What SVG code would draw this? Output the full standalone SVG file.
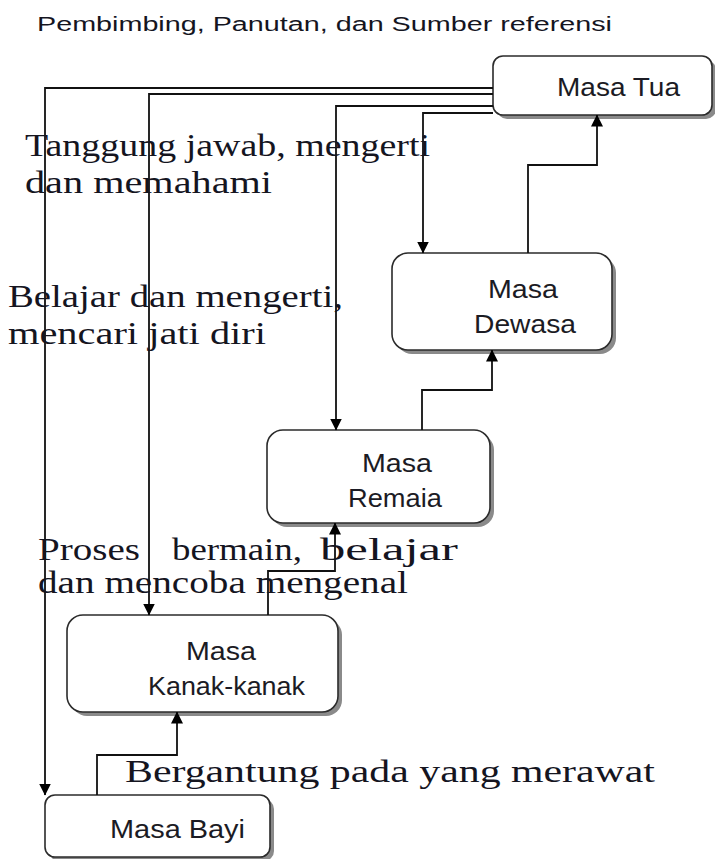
<svg xmlns="http://www.w3.org/2000/svg" width="715" height="859" viewBox="0 0 715 859">
  <style>
    .box { fill: #ffffff; stroke: #2b2b2b; stroke-width: 1.6; }
    .shadow { fill: #8a8a8a; }
    .lbl { font-family: "Liberation Sans", "Open Sans", sans-serif; font-size: 25px; fill: #1b1b24; }
    .note { font-family: "Liberation Serif", "DejaVu Serif", serif; font-size: 31px; fill: #15151f; }
    .title { font-family: "Liberation Sans", "Open Sans", sans-serif; font-size: 20px; fill: #15151f; }
    .wire { fill: none; stroke: #111111; stroke-width: 1.8; }
  </style>
  <defs>
    <marker id="arrow" markerWidth="12" markerHeight="12" refX="11.5" refY="6" orient="auto" markerUnits="userSpaceOnUse">
      <path d="M0,0 L12,6 L0,12 z" fill="#000000"/>
    </marker>
  </defs>
  <rect width="715" height="859" fill="#ffffff"/>

  <text class="title" x="37" y="31" textLength="575" lengthAdjust="spacingAndGlyphs">Pembimbing, Panutan, dan Sumber referensi</text>

  <!-- stage boxes -->
  <g id="masa-tua">
    <rect class="shadow" x="497" y="60" width="219" height="59" rx="10"/>
    <rect class="box" x="493" y="56" width="219" height="59" rx="10"/>
    <text class="lbl" x="557" y="96" textLength="123" lengthAdjust="spacingAndGlyphs">Masa Tua</text>
  </g>
  <g id="masa-dewasa">
    <rect class="shadow" x="396" y="257" width="220" height="97" rx="16"/>
    <rect class="box" x="392" y="253" width="220" height="97" rx="16"/>
    <text class="lbl" x="488" y="298" textLength="70" lengthAdjust="spacingAndGlyphs">Masa</text>
    <text class="lbl" x="474" y="333" textLength="102" lengthAdjust="spacingAndGlyphs">Dewasa</text>
  </g>
  <g id="masa-remaia">
    <rect class="shadow" x="271" y="434" width="223" height="93" rx="16"/>
    <rect class="box" x="267" y="430" width="223" height="93" rx="16"/>
    <text class="lbl" x="362" y="472" textLength="70" lengthAdjust="spacingAndGlyphs">Masa</text>
    <text class="lbl" x="348" y="507" textLength="94" lengthAdjust="spacingAndGlyphs">Remaia</text>
  </g>
  <g id="masa-kanak">
    <rect class="shadow" x="71" y="619" width="271" height="97" rx="16"/>
    <rect class="box" x="67" y="615" width="271" height="97" rx="16"/>
    <text class="lbl" x="186" y="660" textLength="70" lengthAdjust="spacingAndGlyphs">Masa</text>
    <text class="lbl" x="148" y="695" textLength="157" lengthAdjust="spacingAndGlyphs">Kanak-kanak</text>
  </g>
  <g id="masa-bayi">
    <rect class="shadow" x="49" y="799" width="225" height="62" rx="10"/>
    <rect class="box" x="45" y="795" width="225" height="62" rx="10"/>
    <text class="lbl" x="110" y="838" textLength="135" lengthAdjust="spacingAndGlyphs">Masa Bayi</text>
  </g>

  <!-- connectors -->
  <g id="connectors">
    <path class="wire" d="M493,88 H45 V795" marker-end="url(#arrow)"/>
    <path class="wire" d="M493,94 H149 V615" marker-end="url(#arrow)"/>
    <path class="wire" d="M493,106 H336 V430" marker-end="url(#arrow)"/>
    <path class="wire" d="M493,113 H423 V253" marker-end="url(#arrow)"/>
    <path class="wire" d="M97,795 V755 H177 V712" marker-end="url(#arrow)"/>
    <path class="wire" d="M268,615 V571 H335 V523" marker-end="url(#arrow)"/>
    <path class="wire" d="M422,430 V390 H492 V350" marker-end="url(#arrow)"/>
    <path class="wire" d="M528,253 V165 H597 V115" marker-end="url(#arrow)"/>
  </g>

  <!-- side notes -->
  <g id="notes">
    <text class="note" x="25" y="156" textLength="405" lengthAdjust="spacingAndGlyphs">Tanggung jawab, mengerti</text>
    <text class="note" x="25" y="193" textLength="247" lengthAdjust="spacingAndGlyphs">dan memahami</text>
    <text class="note" x="8" y="307" textLength="335" lengthAdjust="spacingAndGlyphs">Belajar dan mengerti,</text>
    <text class="note" x="8" y="344" textLength="258" lengthAdjust="spacingAndGlyphs">mencari jati diri</text>
    <text class="note" x="38" y="560" textLength="102" lengthAdjust="spacingAndGlyphs">Proses</text>
    <text class="note" x="172" y="560" textLength="130" lengthAdjust="spacingAndGlyphs">bermain,</text>
    <text class="note" x="320" y="560" textLength="138" lengthAdjust="spacingAndGlyphs">belajar</text>
    <text class="note" x="38" y="593" textLength="370" lengthAdjust="spacingAndGlyphs">dan mencoba mengenal</text>
    <text class="note" x="125" y="782" textLength="530" lengthAdjust="spacingAndGlyphs">Bergantung pada yang merawat</text>
  </g>
</svg>
